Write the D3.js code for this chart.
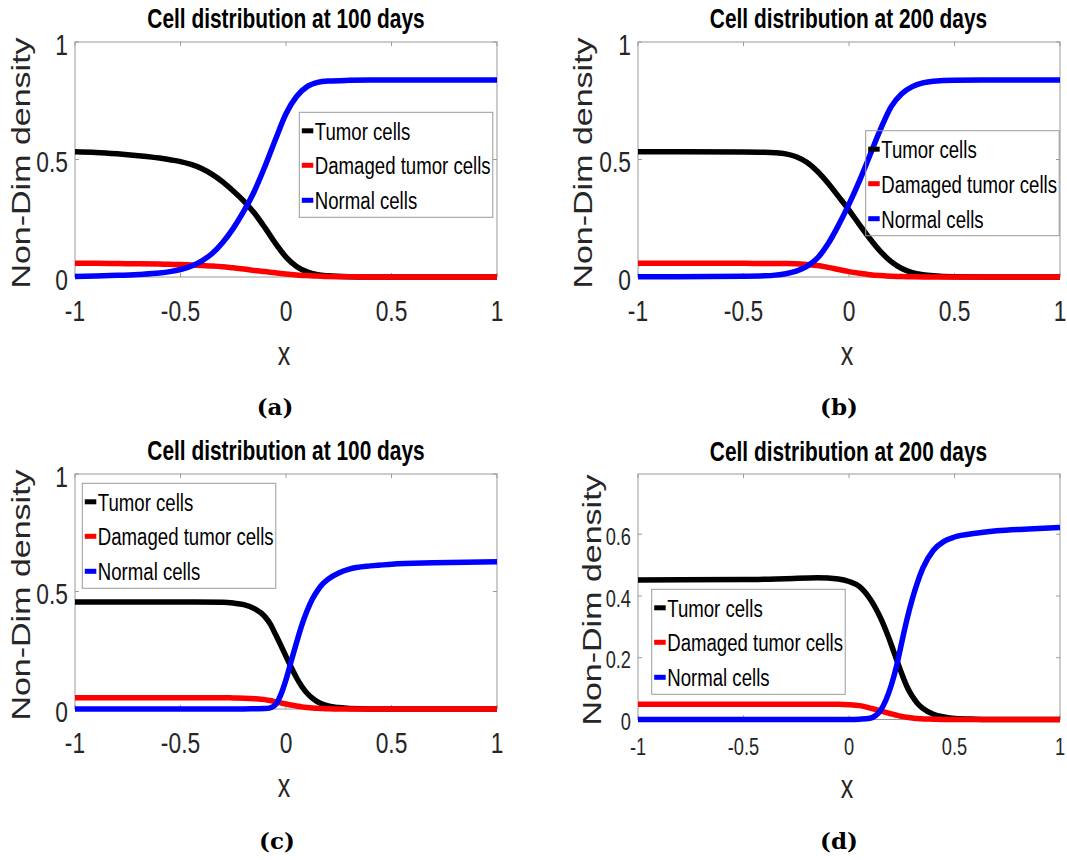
<!DOCTYPE html>
<html>
<head>
<meta charset="utf-8">
<script src="https://cdn.jsdelivr.net/npm/d3@7"></script>
<style>
  html, body { margin: 0; padding: 0; background: #fff; }
  svg { display: block; }
</style>
</head>
<body>
<svg id="fig" width="1067" height="860"></svg>
<script>
// ---- shared labels and ticks ----
const seriesNames = ["Tumor cells", "Damaged tumor cells", "Normal cells"];
const seriesColors = ["#000000", "#ff0000", "#0000ff"];
const titles = ["Cell distribution at 100 days", "Cell distribution at 200 days",
                "Cell distribution at 100 days", "Cell distribution at 200 days"];
const captions = ["(a)", "(b)", "(c)", "(d)"];
const xTicks = [-1, -0.5, 0, 0.5, 1];
const yTicksUnit = [0, 0.5, 1];
const yTicksSmall = [0, 0.2, 0.4, 0.6];

// ---- panel (a) ----
const xA = [-1, -0.9, -0.8, -0.7, -0.6, -0.55, -0.5, -0.45, -0.4, -0.35, -0.3, -0.25, -0.2, -0.15,
            -0.1, -0.05, 0, 0.05, 0.1, 0.15, 0.2, 0.3, 0.4, 0.6, 1];
const tumorA   = [0.533, 0.53, 0.524, 0.516, 0.506, 0.499, 0.491, 0.479, 0.462, 0.437, 0.405, 0.366, 0.323, 0.272,
                  0.21, 0.143, 0.085, 0.045, 0.022, 0.01, 0.005, 0.001, 0, 0, 0];
const damagedA = [0.058, 0.058, 0.057, 0.056, 0.055, 0.054, 0.053, 0.051, 0.049, 0.047, 0.044, 0.039, 0.034, 0.028,
                  0.023, 0.018, 0.013, 0.009, 0.006, 0.004, 0.002, 0.001, 0, 0, 0];
const normalA  = [0.002, 0.004, 0.007, 0.011, 0.017, 0.023, 0.032, 0.046, 0.068, 0.1, 0.147, 0.207, 0.28, 0.365,
                  0.47, 0.585, 0.695, 0.768, 0.81, 0.828, 0.834, 0.837, 0.838, 0.838, 0.838];

// ---- panel (b) ----
const xB = [-1, -0.5, -0.4, -0.35, -0.3, -0.25, -0.2, -0.15, -0.1, -0.05, 0, 0.05, 0.1, 0.15, 0.2, 0.25,
            0.3, 0.35, 0.4, 0.5, 0.7, 1];
const tumorB   = [0.533, 0.532, 0.531, 0.529, 0.524, 0.512, 0.488, 0.45, 0.4, 0.343, 0.285, 0.222, 0.162, 0.108,
                  0.065, 0.036, 0.019, 0.01, 0.005, 0.001, 0, 0];
const damagedB = [0.058, 0.058, 0.057, 0.057, 0.057, 0.056, 0.053, 0.049, 0.041, 0.032, 0.023, 0.016, 0.01, 0.006,
                  0.003, 0.002, 0.001, 0, 0, 0, 0, 0];
const normalB  = [0.001, 0.003, 0.005, 0.008, 0.014, 0.025, 0.045, 0.08, 0.14, 0.22, 0.31, 0.41, 0.52, 0.63,
                  0.725, 0.78, 0.81, 0.826, 0.833, 0.837, 0.838, 0.838];

// ---- panel (c) ----
const xC = [-1, -0.5, -0.3, -0.25, -0.2, -0.15, -0.1, -0.075, -0.05, -0.025, 0, 0.025, 0.05, 0.075, 0.1,
            0.125, 0.15, 0.175, 0.2, 0.25, 0.3, 0.4, 0.5, 0.7, 1];
const tumorC   = [0.455, 0.455, 0.454, 0.451, 0.444, 0.427, 0.393, 0.362, 0.318, 0.272, 0.224, 0.177, 0.133, 0.096, 0.067,
                  0.046, 0.03, 0.02, 0.013, 0.006, 0.002, 0, 0, 0, 0];
const damagedC = [0.048, 0.048, 0.048, 0.047, 0.046, 0.044, 0.04, 0.036, 0.031, 0.026, 0.021, 0.017, 0.013, 0.009, 0.006,
                  0.004, 0.003, 0.002, 0.001, 0, 0, 0, 0, 0, 0];
const normalC  = [0, 0, 0, 0, 0, 0.001, 0.002, 0.005, 0.018, 0.06, 0.125, 0.205, 0.283, 0.357, 0.418,
                  0.468, 0.505, 0.533, 0.553, 0.579, 0.595, 0.609, 0.616, 0.622, 0.627];

// ---- panel (d) ----
const xD = [-1, -0.5, -0.3, -0.15, -0.05, 0, 0.05, 0.1, 0.125, 0.15, 0.175, 0.2, 0.225, 0.25, 0.275, 0.3,
            0.325, 0.35, 0.4, 0.45, 0.5, 0.6, 0.7, 0.85, 1];
const tumorD   = [0.452, 0.453, 0.456, 0.459, 0.455, 0.447, 0.43, 0.39, 0.362, 0.328, 0.288, 0.243, 0.195, 0.148, 0.106, 0.075,
                  0.052, 0.036, 0.017, 0.008, 0.003, 0.001, 0, 0, 0];
const damagedD = [0.049, 0.049, 0.049, 0.049, 0.049, 0.048, 0.045, 0.037, 0.033, 0.028, 0.023, 0.018, 0.014, 0.01, 0.007, 0.005,
                  0.003, 0.002, 0.001, 0, 0, 0, 0, 0, 0];
const normalD  = [0, 0, 0, 0, 0, 0, 0.001, 0.004, 0.012, 0.03, 0.063, 0.11, 0.172, 0.25, 0.325, 0.39,
                  0.445, 0.49, 0.548, 0.577, 0.591, 0.603, 0.611, 0.617, 0.622];

// ---- layout of the four axes ----
const panels = [
  { x: xA, series: [tumorA, damagedA, normalA], yMax: 1, yTicks: yTicksUnit,
    left: 75, right: 497, top: 42, bottom: 277, tickFont: 30, xTickOff: 44, xLabOff: 88,
    yLabX: 30, yLabY: 163, titleX: 286, titleY: 28, capX: 275, capY: 415, legend: [299.3, 112.3] },
  { x: xB, series: [tumorB, damagedB, normalB], yMax: 1, yTicks: yTicksUnit,
    left: 638, right: 1060, top: 42, bottom: 277, tickFont: 30, xTickOff: 44, xLabOff: 88,
    yLabX: 591.5, yLabY: 163, titleX: 848.5, titleY: 28, capX: 839, capY: 415, legend: [865.7, 130.7] },
  { x: xC, series: [tumorC, damagedC, normalC], yMax: 1, yTicks: yTicksUnit,
    left: 75, right: 497, top: 474, bottom: 709, tickFont: 30, xTickOff: 44, xLabOff: 88,
    yLabX: 29.5, yLabY: 595, titleX: 286, titleY: 460, capX: 277, capY: 849, legend: [82.3, 483.3] },
  { x: xD, series: [tumorD, damagedD, normalD], yMax: 0.795, yTicks: yTicksSmall,
    left: 638, right: 1060, top: 474, bottom: 719.5, tickFont: 24, xTickOff: 35, xLabOff: 78,
    yLabX: 600.5, yLabY: 600, titleX: 848.5, titleY: 460.5, capX: 839, capY: 849, legend: [651.7, 589.3] }
];

const SX = 0.76;              // narrow horizontal glyph scale
const SANS = "'Liberation Sans', Arial, Helvetica, sans-serif";
const TEXT_GRAY = "#262626";
const AXIS_GRAY = "#9a9a9a";

const svg = d3.select("#fig");
svg.append("rect").attr("width", 1067).attr("height", 860).attr("fill", "#fff");

function label(g, x, y, str, o) {
  return g.append("text")
    .attr("transform", `translate(${x},${y}) scale(${SX},1)` + (o.rotate ? " rotate(-90)" : ""))
    .attr("text-anchor", o.anchor || "start")
    .attr("font-family", o.family || SANS)
    .attr("font-size", o.size)
    .attr("font-weight", o.weight || "normal")
    .attr("fill", o.fill || TEXT_GRAY)
    .text(str);
}

const fmt = v => (v === 0 ? "0" : String(v));

panels.forEach((p, i) => {
  const g = svg.append("g");
  const xs = d3.scaleLinear().domain([-1, 1]).range([p.left, p.right]);
  const ys = d3.scaleLinear().domain([0, p.yMax]).range([p.bottom, p.top]);

  // axes box
  g.append("rect")
    .attr("x", p.left).attr("y", p.top)
    .attr("width", p.right - p.left).attr("height", p.bottom - p.top)
    .attr("fill", "none").attr("stroke", AXIS_GRAY).attr("stroke-width", 1);

  // inward ticks on all four sides
  const tl = 4;
  xTicks.forEach(t => {
    const X = xs(t);
    g.append("line").attr("x1", X).attr("x2", X).attr("y1", p.bottom).attr("y2", p.bottom - tl)
      .attr("stroke", AXIS_GRAY);
    g.append("line").attr("x1", X).attr("x2", X).attr("y1", p.top).attr("y2", p.top + tl)
      .attr("stroke", AXIS_GRAY);
    label(g, X, p.bottom + p.xTickOff, fmt(t), { size: p.tickFont, anchor: "middle" });
  });
  p.yTicks.forEach(t => {
    const Y = ys(t);
    g.append("line").attr("x1", p.left).attr("x2", p.left + tl).attr("y1", Y).attr("y2", Y)
      .attr("stroke", AXIS_GRAY);
    g.append("line").attr("x1", p.right).attr("x2", p.right - tl).attr("y1", Y).attr("y2", Y)
      .attr("stroke", AXIS_GRAY);
    label(g, p.left - 7, Y + 2 + p.tickFont * 0.358, fmt(t), { size: p.tickFont, anchor: "end" });
  });

  // axis labels
  label(g, (p.left + p.right) / 2 - 2, p.bottom + p.xLabOff, "x", { size: 33, anchor: "middle" });
  label(g, p.yLabX, p.yLabY, "Non-Dim density", { size: 34, anchor: "middle", rotate: true });

  // title
  label(g, p.titleX, p.titleY, titles[i], { size: 27.5, anchor: "middle", weight: "bold", fill: "#000" });

  // caption below each axes
  g.append("text")
    .attr("x", p.capX).attr("y", p.capY)
    .attr("text-anchor", "middle")
    .attr("font-family", "'DejaVu Serif', 'Liberation Serif', serif")
    .attr("font-weight", "bold")
    .attr("font-size", 23)
    .attr("fill", "#000")
    .text(captions[i]);

  // curves: tumor, damaged, then normal on top
  const line = d3.line()
    .x((d, j) => xs(p.x[j]))
    .y(d => ys(d))
    .curve(d3.curveMonotoneX);
  p.series.forEach((vals, k) => {
    g.append("path")
      .attr("d", line(vals))
      .attr("fill", "none")
      .attr("stroke", seriesColors[k])
      .attr("stroke-width", 5.5)
      .attr("stroke-linejoin", "round");
  });

  // legend (transparent box, drawn over the curves)
  const [lx, ly] = p.legend;
  const lg = g.append("g");
  lg.append("rect").attr("x", lx).attr("y", ly).attr("width", 193.5).attr("height", 105)
    .attr("fill", "none").attr("stroke", AXIS_GRAY).attr("stroke-width", 1);
  const rowOff = [18.5, 53, 88];
  seriesNames.forEach((name, k) => {
    const cy = ly + rowOff[k];
    lg.append("line").attr("x1", lx + 2.5).attr("x2", lx + 14).attr("y1", cy).attr("y2", cy)
      .attr("stroke", seriesColors[k]).attr("stroke-width", 5);
    label(lg, lx + 15.5, cy + 8.8, name, { size: 24.5, fill: "#000" });
  });
});
</script>
</body>
</html>
